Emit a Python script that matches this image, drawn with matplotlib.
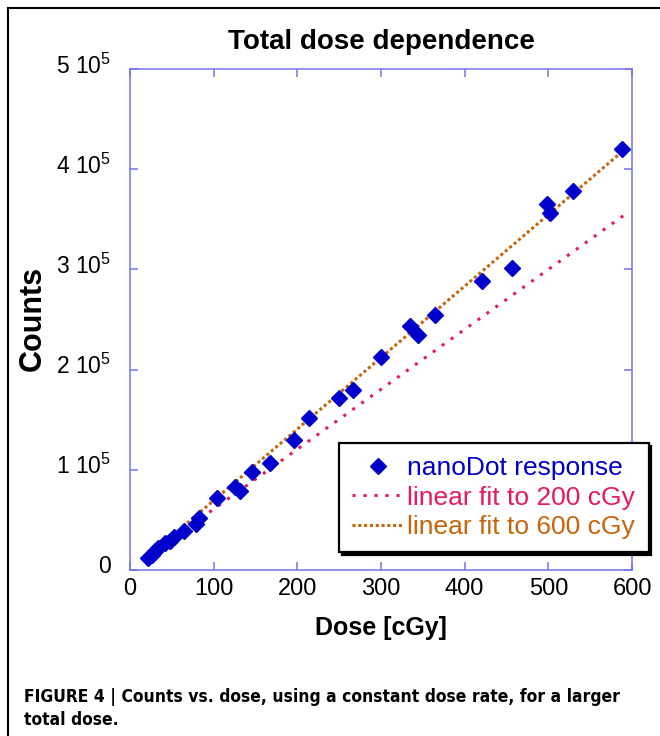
import matplotlib
matplotlib.use("Agg")
import matplotlib.pyplot as plt
import matplotlib.transforms as mtransforms
from matplotlib.lines import Line2D

dose = [21, 26, 30, 34, 42, 48, 52, 65, 79, 83, 103.5, 125, 132, 146, 167,
        196, 214, 250, 266, 299.5, 335, 344, 364, 420.5, 457, 499, 502, 530, 588.6]
counts = [12300, 14700, 19300, 21600, 26600, 29300, 32600, 38900, 45600, 51600,
          71600, 82500, 79200, 97500, 106500, 129700, 151400, 172000, 179700,
          212300, 243500, 234700, 254700, 288400, 301700, 364900, 356600,
          378300, 419900]

# end points of the two fit lines
fit200_dose = [20, 592]
fit200_counts = [12900, 355000]
fit600_dose = [63, 591]
fit600_counts = [43000, 419500]

xticks = [0, 100, 200, 300, 400, 500, 600]
yticks = [0, 100000, 200000, 300000, 400000, 500000]
ytick_labels = ["0", "1 10$^5$", "2 10$^5$", "3 10$^5$", "4 10$^5$", "5 10$^5$"]

plt.rcParams['font.family'] = ['Liberation Sans', 'DejaVu Sans']
plt.rcParams['mathtext.fontset'] = 'custom'
plt.rcParams['mathtext.rm'] = 'Liberation Sans'
plt.rcParams['mathtext.default'] = 'regular'

axis_col = '#7474ea'

fig = plt.figure(figsize=(6.6, 7.36), dpi=100)
ax = fig.add_axes([130 / 660, 1 - 570 / 736, 502 / 660, 501 / 736])

ax.plot(fit200_dose, fit200_counts, color='#e6195c', lw=2.2,
        dashes=(1, 2.6), label='linear fit to 200 cGy', zorder=2)
ax.plot(fit600_dose, fit600_counts, color='#c8640a', lw=2.2,
        dashes=(1, 0.9), label='linear fit to 600 cGy', zorder=2)
ax.plot(dose, counts, 'D', color='#0000cc', ms=8.5, mec='#0000cc',
        label='nanoDot response', zorder=3)

ax.set_xlim(0, 600)
ax.set_ylim(0, 500000)
ax.set_xticks(xticks)
ax.set_yticks(yticks)
ax.set_yticklabels(ytick_labels)

for s in ax.spines.values():
    s.set_color(axis_col)
    s.set_linewidth(1.1)
ax.tick_params(direction='in', length=6, width=1.1, color=axis_col,
               top=True, right=True, labelsize=17, labelcolor='black')
ax.tick_params(axis='y', labelsize=16.5, pad=14)
ax.tick_params(axis='x', pad=6)

# nudge y labels up a little, like the original
off = mtransforms.ScaledTranslation(0, 4 / 72, fig.dpi_scale_trans)
for lab in ax.get_yticklabels():
    lab.set_transform(lab.get_transform() + off)

fig.text(381 / 660, 1 - 42 / 736, 'Total dose dependence', ha='center',
         va='center', fontsize=20, fontweight='bold')
fig.text(381 / 660, 1 - 628 / 736, 'Dose [cGy]', ha='center', va='center',
         fontsize=18, fontweight='bold')
fig.text(33 / 660, 1 - 318 / 736, 'Counts', ha='center', va='center',
         rotation=90, fontsize=22, fontweight='bold')

handles, labels = ax.get_legend_handles_labels()
order = [2, 0, 1]
leg = ax.legend([handles[i] for i in order], [labels[i] for i in order],
                loc='upper left', bbox_to_anchor=(0.416, 0.253),
                fontsize=19, frameon=True, fancybox=False,
                shadow={'color': 'black', 'alpha': 1},
                handlelength=1.95, handletextpad=0.15, labelspacing=0.2,
                borderpad=0.5, borderaxespad=0)
leg.get_frame().set_edgecolor('black')
leg.get_frame().set_linewidth(1.6)
for txt, col in zip(leg.get_texts(), ['#0000cc', '#e6195c', '#c8640a']):
    txt.set_color(col)

# outer frame of the figure panel
fig.add_artist(Line2D([8 / 660, 8 / 660], [0, 1 - 8 / 736], color='black',
                      lw=1.5, transform=fig.transFigure))
fig.add_artist(Line2D([8 / 660, 1], [1 - 8 / 736, 1 - 8 / 736], color='black',
                      lw=1.5, transform=fig.transFigure))

cap_font = ['DejaVu Sans', 'Liberation Sans']
fig.text(24 / 660, 1 - 697 / 736,
         'FIGURE 4 | Counts vs. dose, using a constant dose rate, for a larger',
         ha='left', va='center', fontsize=12.5, fontweight='bold',
         fontstretch='condensed', family=cap_font)
fig.text(24 / 660, 1 - 720 / 736, 'total dose.', ha='left', va='center',
         fontsize=12.5, fontweight='bold', fontstretch='condensed',
         family=cap_font)

fig.savefig('out.png', dpi=100)
